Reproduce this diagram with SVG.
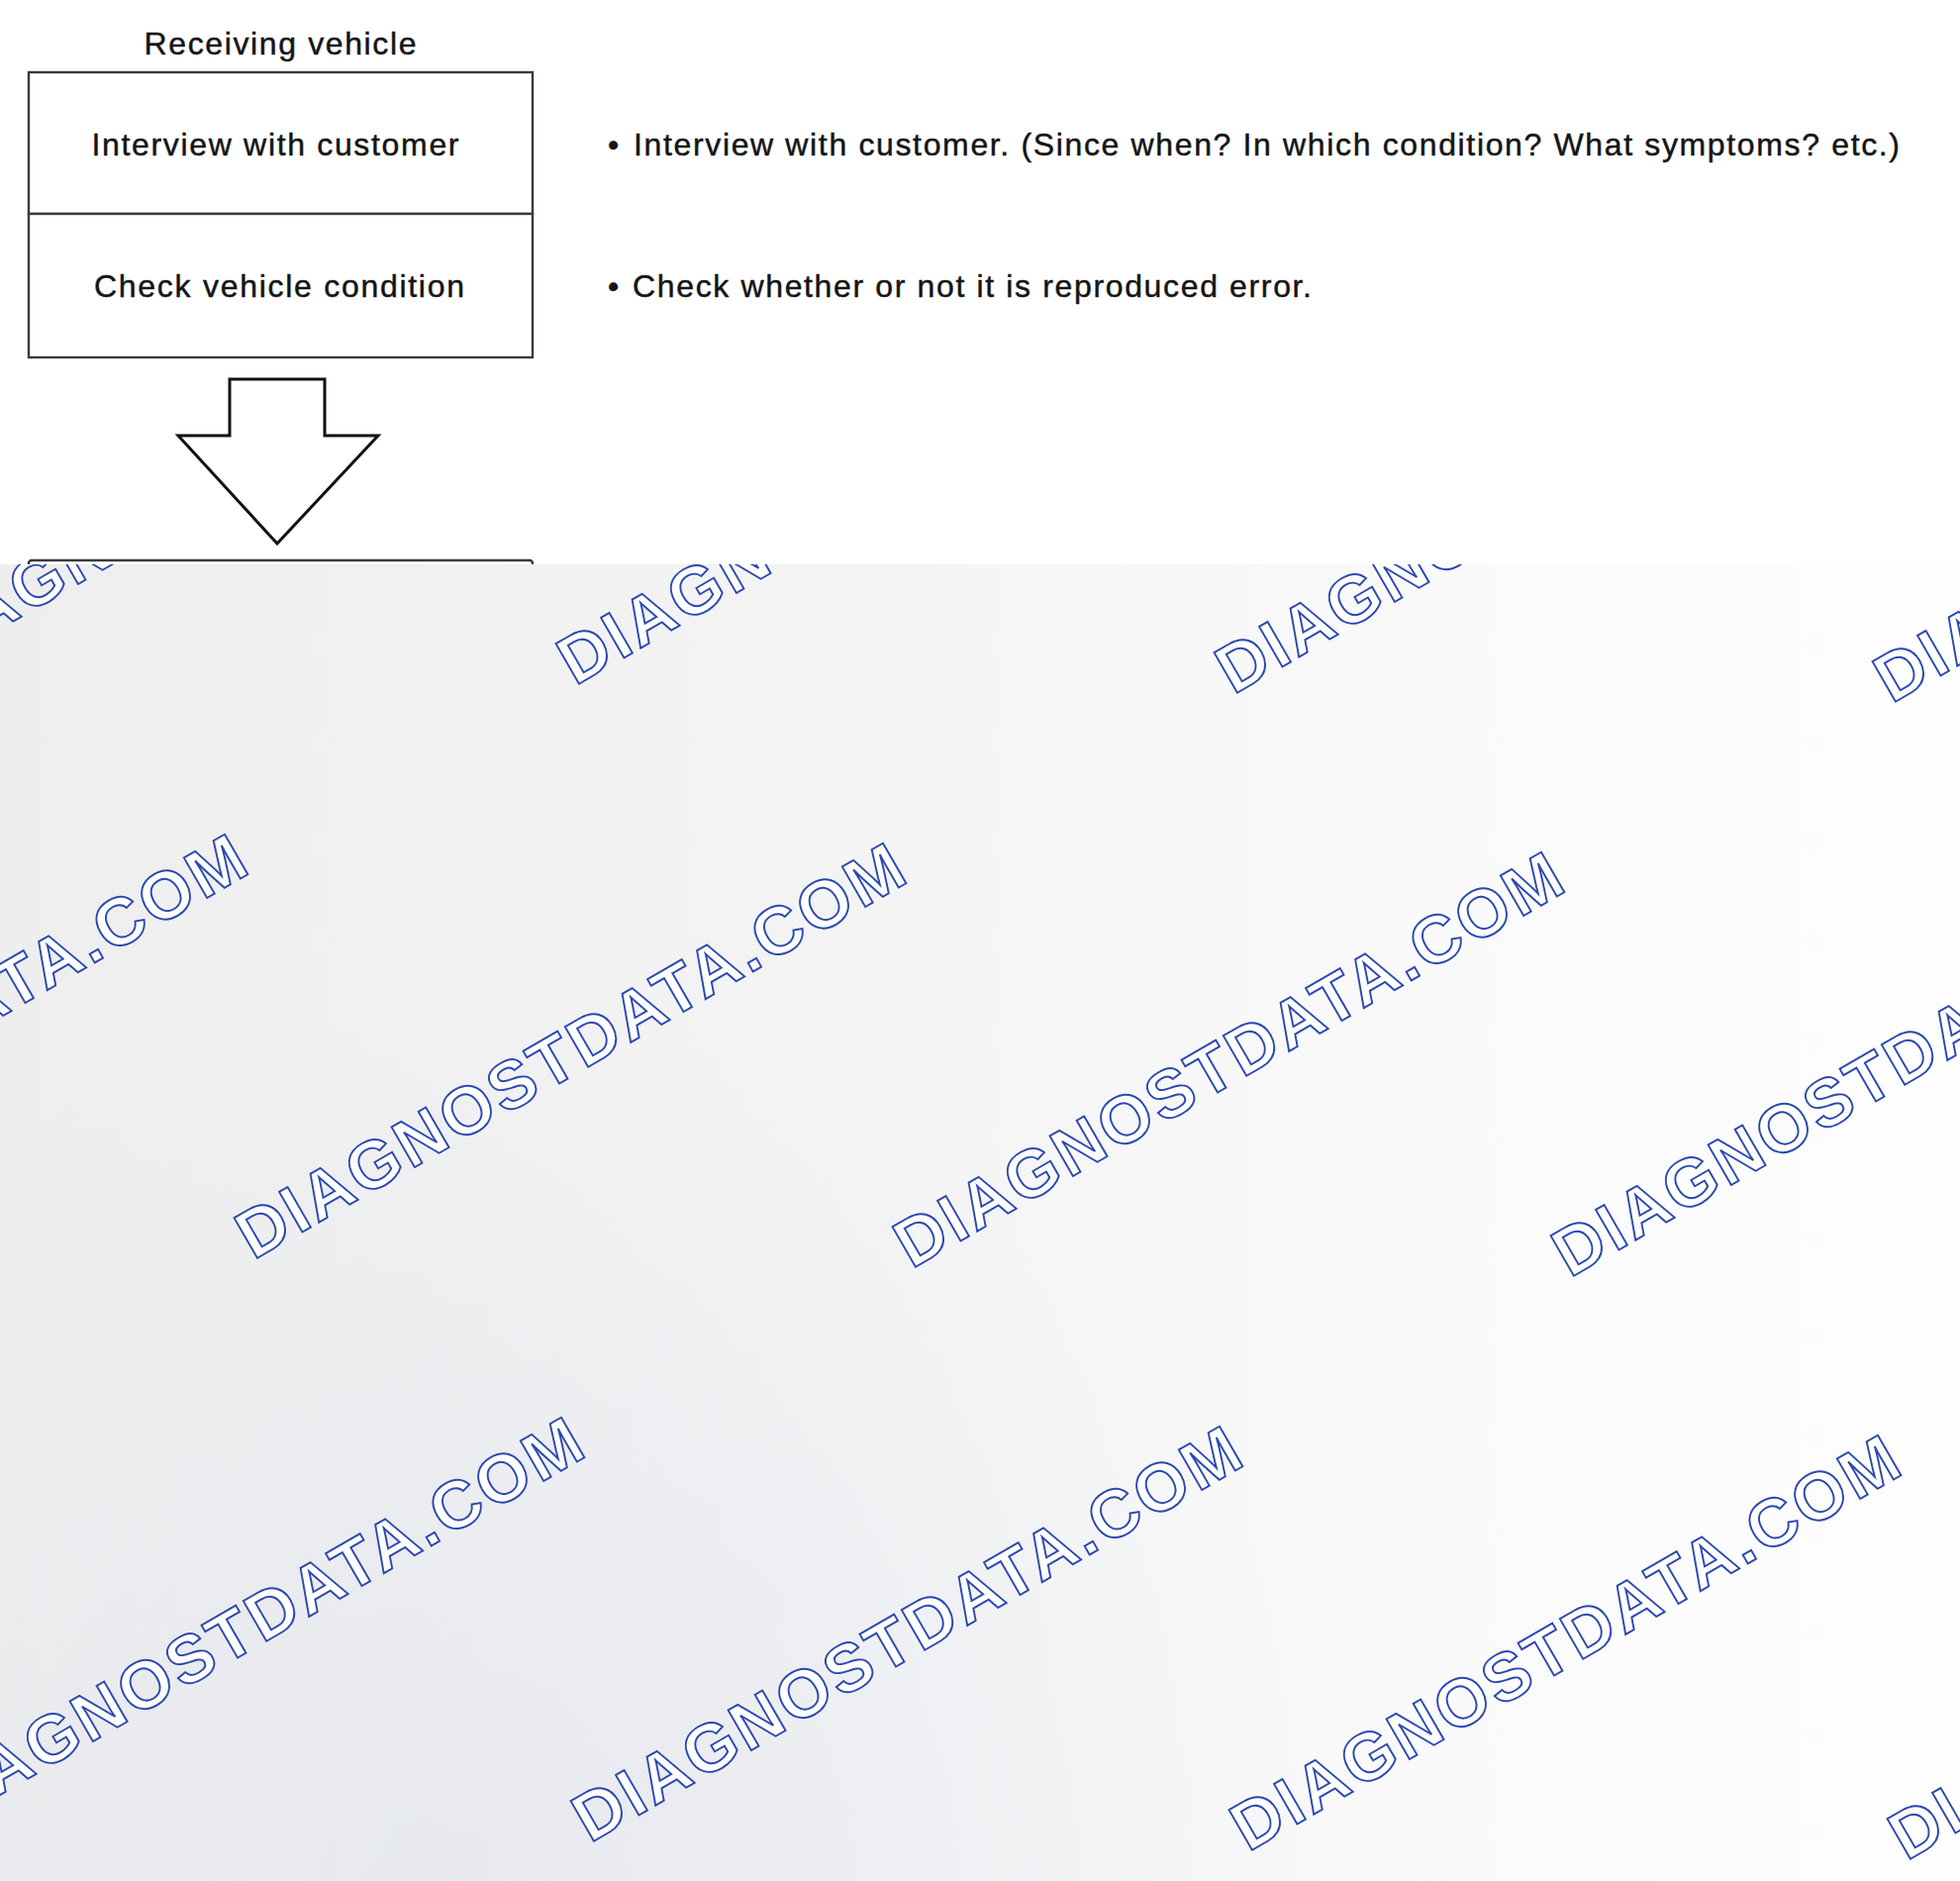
<svg xmlns="http://www.w3.org/2000/svg" width="1980" height="1900" viewBox="0 0 1980 1900">
<style>
.lbl{font-family:"Liberation Sans",Arial,Helvetica,sans-serif;font-size:32px;fill:#141414;stroke:#141414;stroke-width:0.45}
.box{fill:#fff;stroke:#3a3a3a;stroke-width:2.4}
.wm{font-family:"Liberation Sans",Arial,Helvetica,sans-serif;font-weight:bold;font-size:68px;fill:#ffffff;stroke:#2a48b0;stroke-width:1.9}
</style>
<defs>
<linearGradient id="bgH" x1="0" y1="0" x2="1" y2="0">
<stop offset="0" stop-color="#eeeeee"/>
<stop offset="0.45" stop-color="#f4f4f5"/>
<stop offset="0.75" stop-color="#fafafa"/>
<stop offset="1" stop-color="#fefefe"/>
</linearGradient>
<radialGradient id="blueTint" cx="450" cy="1920" r="900" gradientUnits="userSpaceOnUse">
<stop offset="0" stop-color="#dfe3ec" stop-opacity="0.6"/>
<stop offset="1" stop-color="#dfe3ec" stop-opacity="0"/>
</radialGradient>
<clipPath id="wmClip"><rect x="0" y="570" width="1980" height="1330"/></clipPath>
</defs>
<rect x="0" y="0" width="1980" height="1900" fill="#ffffff"/>

<g id="title">
<text class="lbl" x="283" y="55" text-anchor="middle" textLength="275" lengthAdjust="spacing">Receiving vehicle</text>
</g>

<g id="node-interview">
<rect class="box" x="29" y="73" width="509" height="143"/>
<text class="lbl" x="278" y="157" text-anchor="middle" textLength="371" lengthAdjust="spacing">Interview with customer</text>
</g>
<g id="node-check">
<rect class="box" x="29" y="216" width="509" height="145"/>
<text class="lbl" x="282" y="300" text-anchor="middle" textLength="374" lengthAdjust="spacing">Check vehicle condition</text>
</g>
<g id="note-interview">
<text class="lbl" x="614" y="157">•</text>
<text class="lbl" x="640" y="157" textLength="1279" lengthAdjust="spacing">Interview with customer. (Since when? In which condition? What symptoms? etc.)</text>
</g>
<g id="note-check">
<text class="lbl" x="614" y="300">•</text>
<text class="lbl" x="639" y="300" textLength="686" lengthAdjust="spacing">Check whether or not it is reproduced error.</text>
</g>

<g id="connectors">
<polygon points="232,383 328,383 328,440 382,440 280,549 180,440 232,440" fill="#ffffff" stroke="#111111" stroke-width="3" stroke-linejoin="miter"/>
</g>

<g id="node-next">
<rect class="box" x="29" y="566" width="509" height="200" rx="3"/>
</g>

<g id="watermark-layer">
<rect x="0" y="570" width="1980" height="1330" fill="url(#bgH)"/>
<rect x="0" y="570" width="1980" height="1330" fill="url(#blueTint)"/>
<g clip-path="url(#wmClip)">
<text class="wm" transform="translate(-84,684) rotate(-30)" textLength="766" lengthAdjust="spacing">DIAGNOSTDATA.COM</text>
<text class="wm" transform="translate(581,693) rotate(-30)" textLength="766" lengthAdjust="spacing">DIAGNOSTDATA.COM</text>
<text class="wm" transform="translate(1246,702) rotate(-30)" textLength="766" lengthAdjust="spacing">DIAGNOSTDATA.COM</text>
<text class="wm" transform="translate(1911,711) rotate(-30)" textLength="766" lengthAdjust="spacing">DIAGNOSTDATA.COM</text>
<text class="wm" transform="translate(-409,1264) rotate(-30)" textLength="766" lengthAdjust="spacing">DIAGNOSTDATA.COM</text>
<text class="wm" transform="translate(256,1273) rotate(-30)" textLength="766" lengthAdjust="spacing">DIAGNOSTDATA.COM</text>
<text class="wm" transform="translate(921,1282) rotate(-30)" textLength="766" lengthAdjust="spacing">DIAGNOSTDATA.COM</text>
<text class="wm" transform="translate(1586,1291) rotate(-30)" textLength="766" lengthAdjust="spacing">DIAGNOSTDATA.COM</text>
<text class="wm" transform="translate(-69,1853) rotate(-30)" textLength="766" lengthAdjust="spacing">DIAGNOSTDATA.COM</text>
<text class="wm" transform="translate(596,1862) rotate(-30)" textLength="766" lengthAdjust="spacing">DIAGNOSTDATA.COM</text>
<text class="wm" transform="translate(1261,1871) rotate(-30)" textLength="766" lengthAdjust="spacing">DIAGNOSTDATA.COM</text>
<text class="wm" transform="translate(1926,1880) rotate(-30)" textLength="766" lengthAdjust="spacing">DIAGNOSTDATA.COM</text>
</g>
</g>
</svg>
